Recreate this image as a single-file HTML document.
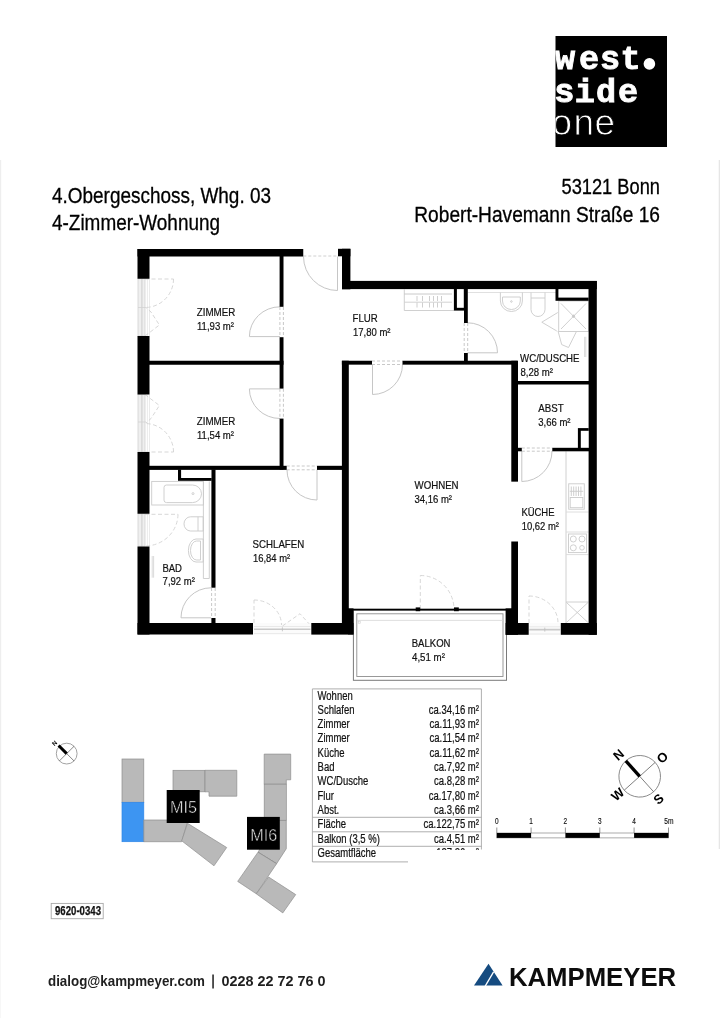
<!DOCTYPE html>
<html lang="de">
<head>
<meta charset="utf-8">
<title>Grundriss 4.Obergeschoss Whg. 03</title>
<style>
html,body{margin:0;padding:0;background:#fff;}
body{width:720px;height:1018px;overflow:hidden;position:relative;font-family:"Liberation Sans",sans-serif;}
svg{position:absolute;left:0;top:0;display:block;will-change:transform;}
text{font-family:"Liberation Sans",sans-serif;}
.mono{font-family:"Liberation Mono",monospace;}
</style>
</head>
<body>
<svg width="720" height="1018" viewBox="0 0 720 1018">
<rect x="0" y="0" width="720" height="1018" fill="#ffffff"/>

<rect x="0" y="160" width="1.2" height="760" fill="#eeeeee"/>
<rect x="0" y="920" width="1" height="98" fill="#f7f7f7"/>
<rect x="718.7" y="160" width="1.3" height="689" fill="#e6e6e6"/>
<!-- ===== LOGO ===== -->
<g id="logo">
<rect x="555.5" y="36" width="111.5" height="111" fill="#000"/>
<clipPath id="lc"><rect x="555.5" y="36" width="111.5" height="111"/></clipPath>
<g clip-path="url(#lc)" fill="#fff">
<text class="mono" y="68.7" font-size="33.5" font-weight="bold" stroke="#fff" stroke-width="0.9" x="555 578.9 600 620.6">west</text>
<circle cx="649.4" cy="63.9" r="5.8"/>
<text class="mono" y="102.4" font-size="33.5" font-weight="bold" stroke="#fff" stroke-width="0.9" x="554.2 574.8 595.9 618">side</text>
<text y="134.6" font-size="37" stroke="#000" stroke-width="0.9" x="551.6 573.6 594.6">one</text>
</g>
</g>

<!-- ===== HEADER TEXT ===== -->
<g id="header" fill="#000" font-size="21.2" stroke="#000" stroke-width="0.3">
<text x="52" y="203" textLength="219" lengthAdjust="spacingAndGlyphs">4.Obergeschoss, Whg. 03</text>
<text x="52" y="230" textLength="168" lengthAdjust="spacingAndGlyphs">4-Zimmer-Wohnung</text>
<text x="561.5" y="194" textLength="98.5" lengthAdjust="spacingAndGlyphs">53121 Bonn</text>
<text x="414.3" y="221.5" textLength="245.7" lengthAdjust="spacingAndGlyphs">Robert-Havemann Straße 16</text>
</g>

<!-- ===== FLOORPLAN ===== -->
<g id="plan">
<!--FIXTURES-->
<g id="windows" stroke="#d2d2d2" stroke-width="0.8" fill="#efefef">
<rect x="138" y="278.75" width="7" height="57.25"/>
<rect x="138" y="394.5" width="7" height="57.5"/>
<rect x="138" y="513.9" width="7" height="32.3"/>
<path d="M141.9,278.75V336M141.9,394.5V452M141.9,513.75V546.5" fill="none" stroke="#c4c4c4"/>
<path d="M138,307.5h8M138,422h8" fill="none"/>
<path d="M147.4,278.75V336M147.4,394.5V452M147.4,513.75V546.5M149.5,278.75V336M149.5,394.5V452M149.5,513.75V546.5" fill="none" stroke="#e6e6e6"/>
<rect x="253.2" y="623.2" width="58" height="11.3" fill="#fbfbfb" stroke="none"/>
<rect x="528.7" y="623" width="32" height="11.6" fill="#fbfbfb" stroke="none"/>
<path d="M254,629.3H310.5M529.3,629.6H560.2" fill="none" stroke="#c9c9c9" stroke-width="1.6"/>
<path d="M254,633.6H310.5M529.3,634H560.2M254,626.5H310.5M529.3,626.8H560.2" fill="none" stroke="#e4e4e4" stroke-width="0.8"/>
<path d="M282.4,627.3v4M544.8,627.6v4" fill="none" stroke="#bdbdbd"/>
</g>
<g id="doors" fill="none" stroke="#c6c6c6" stroke-width="1">
<!-- entry -->
<path d="M337.5,256.5V290.5M303.5,256.5A34,34 0 0 0 337.5,290.5"/>
<path d="M303.3,256H338" stroke-dasharray="3 2" stroke="#d0d0d0"/>
<!-- zimmer1 -->
<path d="M280,336.6H249.4M249.4,336.6A30.6,29.8 0 0 1 280,306.8"/>
<path d="M279.9,307V337M283.4,307V337" stroke-dasharray="3 2" stroke="#c8c8c8"/>
<!-- zimmer2 -->
<path d="M280,388.9H249.4M249.4,388.9A30.6,29.6 0 0 0 280,418.5"/>
<path d="M279.9,388.8V418.7M283.4,388.8V418.7" stroke-dasharray="3 2" stroke="#c8c8c8"/>
<!-- schlafen -->
<path d="M317,470V500M287,470A30,30 0 0 0 317,500"/>
<path d="M286.7,466H317M286.7,469.8H317" stroke-dasharray="3 2" stroke="#c8c8c8"/>
<!-- wohnen -->
<path d="M372.5,364.5V394.5M402.5,364.5A30,30 0 0 1 372.5,394.5"/>
<path d="M372,361H402.5M372,364.5H402.5" stroke-dasharray="3 2" stroke="#c8c8c8"/>
<!-- wc -->
<path d="M467.5,352.8H497.5M497.5,352.8A30,30 0 0 0 467.5,322.8"/>
<path d="M464.2,323V353M467.7,323V353" stroke-dasharray="3 2" stroke="#c8c8c8"/>
<!-- abst -->
<path d="M521.8,451V481.5M552,451A30.3,30.3 0 0 1 521.8,481.5"/>
<path d="M521.8,448H552.3M521.8,451.2H552.3" stroke-dasharray="3 2" stroke="#c8c8c8"/>
<!-- bad -->
<path d="M211,617.8H181M181,617.8A30,30 0 0 1 211,587.8"/>
<path d="M211.6,588V618M215.2,588V618" stroke-dasharray="3 2" stroke="#c8c8c8"/>
</g>
<g id="doors2" fill="none" stroke="#d3d3d3" stroke-width="0.9" stroke-dasharray="4 2.5">
<!-- balcony door wohnen -->
<path d="M420.3,609V575.5M420.3,575.5A33.7,33.7 0 0 1 454,609"/>
<!-- kueche balcony door -->
<path d="M529,623V596M529,596A29,27 0 0 1 558,623"/>
<!-- schlafen window doors -->
<path d="M254,623V600M254,600A27.5,25 0 0 1 281.5,625"/>
<path d="M282.5,626L300,613.7L309,623.7"/>
<!-- zimmer windows -->
<path d="M145,279H173.5M173.5,279A28.5,28.5 0 0 1 145,307.5"/>
<path d="M145,336L159.4,325L151,312L146,307.5"/>
<path d="M145,452H173.5M173.5,452A28.5,28.5 0 0 0 145,423.5"/>
<path d="M145,394.5L159.4,405.5L151,418.5L146,423"/>
<!-- bad window -->
<path d="M145,514.3H178M178,514.3A33,32 0 0 1 145,546"/>
</g>
<g id="fix" fill="none" stroke="#cbcbcb" stroke-width="0.9">
<!-- bad -->
<rect x="151.7" y="481.4" width="51.7" height="23.6"/>
<path d="M166.5,485H192.5A9,8.8 0 0 1 192.5,502.6H166.5A2.5,2.5 0 0 1 164,500.1V487.5A2.5,2.5 0 0 1 166.5,485Z"/>
<circle cx="193" cy="493.6" r="1"/>
<path d="M203.4,481.4V578.5H209.3V481.4"/>
<path d="M203.2,516.8H190.5A6.5,7.1 0 0 0 190.5,531H203.2Z"/>
<path d="M198,516.8V531"/>
<path d="M203.2,539H196A7.6,11.5 0 0 0 196,562H203.2Z"/>
<path d="M200.5,541H196.5A6,9.5 0 0 0 196.5,560H200.5Z"/>
<path d="M152.2,556V577.7M153.6,556V577.7" stroke-width="0.7"/>
<!-- flur closet -->
<path d="M404.3,289.5V310.5H454"/>
<path d="M404.3,294H452" stroke="#c4c4c4"/><path d="M404.3,302.2H452" stroke="#cdcdcd"/>
<path d="M417,296v12M422.5,296v12M429.5,296v12M433.5,296v12M437.5,296v12M441.5,296v12" stroke="#cacaca" stroke-dasharray="5 1.5"/>
<!-- wc -->
<path d="M468,292.5H556" stroke="#dcdcdc"/>
<path d="M500.4,292.5V301A11,10.5 0 0 0 522.4,301V292.5"/>
<path d="M502.5,297H520.3V301A8.9,8.5 0 0 1 502.5,301Z"/>
<circle cx="511.4" cy="301.5" r="0.8"/>
<path d="M531,292.5V309.5A7,7 0 0 0 545,309.5V292.5"/>
<path d="M531,298H545"/>
<rect x="558.7" y="301" width="29.8" height="30.5"/>
<path d="M561,303.5L586,329M586,303.5L561,329"/>
<circle cx="573.5" cy="316.2" r="1.2" fill="#c8c8c8"/>
<path d="M557.8,312.5L541.8,322.2L556.8,331M558,331L561.7,344.6L568.5,347.5L576.2,332"/>
<path d="M584.6,336.8V357M585.8,336.8V357" stroke-width="0.7"/>
<!-- kueche -->
<path d="M566,451.3V623"/>
<rect x="568.7" y="483.8" width="15.6" height="25.4"/>
<rect x="570.2" y="497.5" width="12.6" height="10.2"/>
<path d="M571.3,486.5v9.5M573.7,486.5v9.5M576.1,486.5v9.5M578.5,486.5v9.5M580.9,486.5v9.5M569.8,491.3H583.2"/>
<path d="M566,512H588.5M566,532H588.5M566,554.6H588.5" stroke="#dadada"/>
<rect x="568.5" y="534" width="18" height="18.6"/>
<circle cx="573.3" cy="539" r="3"/><circle cx="582" cy="539" r="3"/>
<circle cx="573.3" cy="547.8" r="3"/><circle cx="582" cy="547.8" r="2.3"/>
<path d="M566,602H588.5M566.5,602.5L588,622.5M588,602.5L566.5,622.5"/>
</g>
<g id="balkon" fill="none">
<rect x="353.4" y="610" width="153.1" height="70.3" stroke="#7a7a7a" stroke-width="1"/>
<rect x="356.8" y="613.8" width="146.2" height="62.7" stroke="#8e8e8e" stroke-width="0.9"/>
<path d="M357,620.4H503" stroke="#d6d6d6" stroke-width="0.8"/>
<rect x="358.2" y="621.2" width="2" height="2" stroke="#ccc" stroke-width="0.6"/>
</g>

<!--WALLS-->
<g id="walls" fill="#000" stroke="none">
<!-- outer -->
<rect x="137.5" y="249" width="165.75" height="7.5"/>
<rect x="137.5" y="249" width="12" height="29.75"/>
<rect x="137.5" y="336" width="12" height="58.5"/>
<rect x="137.5" y="452" width="12" height="61.75"/>
<rect x="137.5" y="546.5" width="12" height="88"/>
<rect x="137.5" y="623" width="115.5" height="11.5"/>
<rect x="311.3" y="623" width="42.2" height="11.6"/>
<rect x="348" y="608.4" width="5.5" height="26"/>
<rect x="338" y="248.8" width="12.4" height="7.5"/>
<rect x="342" y="248.8" width="8.4" height="40.5"/>
<rect x="342" y="280.9" width="254.8" height="8.2"/>
<rect x="588.6" y="281" width="8.2" height="353.8"/>
<rect x="560.8" y="623" width="36" height="11.8"/>
<rect x="505.6" y="623" width="23.1" height="11.8"/>
<rect x="505.6" y="608.4" width="12.4" height="26.4"/>
<!-- interior -->
<rect x="279.6" y="256" width="3.9" height="50.8"/>
<rect x="279.6" y="337.2" width="3.9" height="51.4"/>
<rect x="279.6" y="418.6" width="3.9" height="51"/>
<rect x="149" y="360.75" width="134.5" height="4"/>
<rect x="149" y="465.8" width="137.7" height="4.1"/>
<rect x="317" y="465.8" width="26" height="4.1"/>
<rect x="211.4" y="469.5" width="4.1" height="118.2"/>
<rect x="211.4" y="618" width="4.1" height="6"/>
<rect x="341.9" y="360.75" width="6.9" height="263"/>
<rect x="341.9" y="360.75" width="30.1" height="3.9"/>
<rect x="402.5" y="360.75" width="115" height="3.9"/>
<rect x="511.3" y="360.75" width="6.7" height="120.9"/>
<rect x="511.3" y="541.5" width="6.7" height="82"/>
<rect x="464" y="289" width="3.8" height="34"/>
<rect x="464" y="353" width="3.8" height="8"/>
<rect x="517" y="381" width="72" height="3.5"/>
<rect x="517" y="447.8" width="4.8" height="3.5"/>
<rect x="552.3" y="447.8" width="37" height="3.5"/>
<!-- wohnen bottom thin line + marks -->
<rect x="348" y="608.7" width="164" height="1.8"/>
<rect x="415.7" y="607.4" width="4.5" height="3.8"/>
<rect x="454" y="607.4" width="4.8" height="3.8"/>
</g>
<g id="shafts" stroke="none">
<rect x="178" y="469.5" width="33.6" height="11.3" fill="#000"/><rect x="181.1" y="469.9" width="30.3" height="8.1" fill="#fff"/>
<rect x="453.9" y="289" width="10.2" height="21.6" fill="#000"/><rect x="456.9" y="289.1" width="6.9" height="18.7" fill="#fff"/>
<rect x="555.5" y="289" width="33.2" height="11.8" fill="#000"/><rect x="558.4" y="289.1" width="30" height="8.5" fill="#fff"/>
<rect x="577.9" y="428.1" width="10.8" height="20" fill="#000"/><rect x="580.8" y="430.8" width="7.9" height="17" fill="#fff"/>
</g>

<!--LABELS-->
<g id="labels" fill="#111" font-size="11.5" stroke="#111" stroke-width="0.22">
<text x="196.75" y="315.90" textLength="38.50" lengthAdjust="spacingAndGlyphs">ZIMMER</text>
<text x="197.00" y="329.75" textLength="37.00" lengthAdjust="spacingAndGlyphs">11,93 m²</text>
<text x="196.75" y="425.00" textLength="38.50" lengthAdjust="spacingAndGlyphs">ZIMMER</text>
<text x="197.00" y="439.10" textLength="37.00" lengthAdjust="spacingAndGlyphs">11,54 m²</text>
<text x="352.60" y="322.10" textLength="25.15" lengthAdjust="spacingAndGlyphs">FLUR</text>
<text x="353.00" y="336.25" textLength="37.50" lengthAdjust="spacingAndGlyphs">17,80 m²</text>
<text x="520.10" y="361.50" textLength="59.40" lengthAdjust="spacingAndGlyphs">WC/DUSCHE</text>
<text x="520.50" y="376.00" textLength="32.50" lengthAdjust="spacingAndGlyphs">8,28 m²</text>
<text x="538.25" y="412.10" textLength="25.35" lengthAdjust="spacingAndGlyphs">ABST</text>
<text x="538.25" y="426.25" textLength="32.25" lengthAdjust="spacingAndGlyphs">3,66 m²</text>
<text x="414.50" y="488.75" textLength="44.10" lengthAdjust="spacingAndGlyphs">WOHNEN</text>
<text x="414.50" y="502.90" textLength="37.50" lengthAdjust="spacingAndGlyphs">34,16 m²</text>
<text x="521.40" y="516.25" textLength="33.10" lengthAdjust="spacingAndGlyphs">KÜCHE</text>
<text x="521.75" y="530.40" textLength="37.25" lengthAdjust="spacingAndGlyphs">10,62 m²</text>
<text x="252.60" y="548.40" textLength="51.65" lengthAdjust="spacingAndGlyphs">SCHLAFEN</text>
<text x="253.00" y="562.25" textLength="37.25" lengthAdjust="spacingAndGlyphs">16,84 m²</text>
<text x="162.40" y="571.50" textLength="19.60" lengthAdjust="spacingAndGlyphs">BAD</text>
<text x="162.60" y="585.40" textLength="32.30" lengthAdjust="spacingAndGlyphs">7,92 m²</text>
<text x="411.75" y="646.90" textLength="38.75" lengthAdjust="spacingAndGlyphs">BALKON</text>
<text x="412.00" y="660.90" textLength="32.90" lengthAdjust="spacingAndGlyphs">4,51 m²</text>
</g>
</g>

<!--TABLE-->
<g id="table">
<path d="M312.4,862V688.9H481.4V849.5" fill="none" stroke="#a6a6a6" stroke-width="0.9"/>
<path d="M312.4,817.3H481.4M312.4,831.8H481.4M312.4,846.3H481.4M312.4,861.9H408" fill="none" stroke="#a6a6a6" stroke-width="0.9"/>
<clipPath id="tc"><rect x="312" y="688" width="170" height="161.9"/></clipPath>
<g fill="#111" font-size="12.3" stroke="#111" stroke-width="0.22">
<text x="317.6" y="699.5" textLength="35.1" lengthAdjust="spacingAndGlyphs">Wohnen</text>
<text x="317.6" y="713.8" textLength="36.9" lengthAdjust="spacingAndGlyphs">Schlafen</text>
<text x="428.8" y="713.8" textLength="50.1" lengthAdjust="spacingAndGlyphs">ca.34,16 m²</text>
<text x="317.6" y="728.1" textLength="32.1" lengthAdjust="spacingAndGlyphs">Zimmer</text>
<text x="429.5" y="728.1" textLength="49.4" lengthAdjust="spacingAndGlyphs">ca.11,93 m²</text>
<text x="317.6" y="742.4" textLength="32.1" lengthAdjust="spacingAndGlyphs">Zimmer</text>
<text x="429.5" y="742.4" textLength="49.4" lengthAdjust="spacingAndGlyphs">ca.11,54 m²</text>
<text x="317.6" y="756.7" textLength="26.9" lengthAdjust="spacingAndGlyphs">Küche</text>
<text x="429.5" y="756.7" textLength="49.4" lengthAdjust="spacingAndGlyphs">ca.11,62 m²</text>
<text x="317.6" y="771.0" textLength="16.9" lengthAdjust="spacingAndGlyphs">Bad</text>
<text x="434.1" y="771.0" textLength="44.8" lengthAdjust="spacingAndGlyphs">ca.7,92 m²</text>
<text x="317.6" y="785.3" textLength="50.6" lengthAdjust="spacingAndGlyphs">WC/Dusche</text>
<text x="434.1" y="785.3" textLength="44.8" lengthAdjust="spacingAndGlyphs">ca.8,28 m²</text>
<text x="317.6" y="799.6" textLength="16.3" lengthAdjust="spacingAndGlyphs">Flur</text>
<text x="428.8" y="799.6" textLength="50.1" lengthAdjust="spacingAndGlyphs">ca.17,80 m²</text>
<text x="317.6" y="813.9" textLength="21.6" lengthAdjust="spacingAndGlyphs">Abst.</text>
<text x="434.1" y="813.9" textLength="44.8" lengthAdjust="spacingAndGlyphs">ca.3,66 m²</text>
<text x="317.6" y="828.2" textLength="28.5" lengthAdjust="spacingAndGlyphs">Fläche</text>
<text x="423.6" y="828.2" textLength="55.3" lengthAdjust="spacingAndGlyphs">ca.122,75 m²</text>
<text x="317.6" y="842.5" textLength="62.2" lengthAdjust="spacingAndGlyphs">Balkon (3,5 %)</text>
<text x="434.1" y="842.5" textLength="44.8" lengthAdjust="spacingAndGlyphs">ca.4,51 m²</text>
<text x="317.6" y="856.8" textLength="58.5" lengthAdjust="spacingAndGlyphs">Gesamtfläche</text>
<text x="423.6" y="856.8" textLength="55.3" lengthAdjust="spacingAndGlyphs" clip-path="url(#tc)">ca.127,26 m²</text>
</g></g>
<!--SITE-->
<g id="site" fill="#b9b9b9" stroke="#8e8e8e" stroke-width="0.7" stroke-linejoin="miter">
<!-- MI5 group -->
<rect x="122" y="759" width="21.8" height="43.3"/>
<rect x="122" y="802.3" width="21.8" height="39.4" fill="#3d95f2" stroke="#2f86e6"/>
<polygon points="143.8,820 188,820 181.7,841.7 143.8,841.7"/>
<polygon points="187.5,823.3 226.7,847.5 214,865.8 181.7,840.8"/>
<rect x="173" y="770.3" width="32" height="21.5"/>
<polygon points="205,770.3 236.8,770.3 236.8,796.2 209,796.2 209,791.8 205,791.8"/>
<!-- MI6 group -->
<polygon points="264.2,754.1 290.7,754.1 290.7,779.8 286.3,779.8 286.3,784.2 264.2,784.2"/>
<rect x="264.2" y="784.2" width="22.1" height="36.2"/>
<polygon points="264.2,820.4 286.3,820.4 286.3,848.7 276.6,863.7 258,852.2 264.2,842"/>
<path d="M258,852.2L276.6,863.7" fill="none"/>
<polygon points="258,852.2 276.6,863.7 256.3,893.8 237.7,881.4"/>
<polygon points="268.6,877 295.7,894.6 282.8,912.9 256.3,893.8"/>
</g>
<g id="sitelabels">
<rect x="166.7" y="790" width="33" height="33" fill="#000"/>
<rect x="247" y="816.9" width="32.8" height="32.8" fill="#000"/>
<g fill="#fff" font-size="17" stroke="#000" stroke-width="0.55">
<text x="170" y="813.4" textLength="27" lengthAdjust="spacingAndGlyphs">MI5</text>
<text x="250.2" y="840.5" textLength="27" lengthAdjust="spacingAndGlyphs">MI6</text>
</g>
</g>
<g id="smallcompass">
<circle cx="66.7" cy="753.6" r="10.4" fill="none" stroke="#8c8c8c" stroke-width="0.8"/>
<path d="M66.7,753.6L74.05,746.25M66.7,753.6L74.05,760.95M66.7,753.6L59.35,760.95" stroke="#555" stroke-width="0.7" fill="none"/>
<path d="M66.7,753.6L58.6,745.5" stroke="#000" stroke-width="3" fill="none"/>
<text transform="translate(54.4,743.2) rotate(-45)" x="-2.2" y="2.2" font-size="6.2" font-weight="bold" fill="#000">N</text>
</g>
<g id="codebox">
<rect x="51.2" y="903.4" width="52" height="15.3" fill="#fff" stroke="#a8a8a8" stroke-width="0.9"/>
<text x="55" y="915.1" font-size="12.3" font-weight="bold" fill="#111" stroke="#111" stroke-width="0.25" textLength="46" lengthAdjust="spacingAndGlyphs">9620-0343</text>
</g>

<!--COMPASS-->
<g id="compass">
<g transform="translate(639.7,776.3) rotate(-42)">
<circle cx="0" cy="0" r="20.8" fill="none" stroke="#777" stroke-width="0.8"/>
<path d="M0,0H20.8M0,0V20.8M0,0H-20.8" stroke="#555" stroke-width="0.7" fill="none"/>
<path d="M0,0V-20.8" stroke="#000" stroke-width="3.3" fill="none"/>
</g>
<g font-size="13" font-weight="bold" fill="#000" text-anchor="middle">
<text transform="translate(618.5,754.7) rotate(-41)" x="0" y="4.6">N</text>
<text transform="translate(662.2,757.5) rotate(-41)" x="0" y="4.6">O</text>
<text transform="translate(617.5,794.2) rotate(-41)" x="0" y="4.6">W</text>
<text transform="translate(658.5,799) rotate(-41)" x="0" y="4.6">S</text>
</g>
</g>
<g id="scalebar">
<rect x="496.8" y="833" width="171.7" height="4.9" fill="#fff" stroke="#888" stroke-width="0.7"/>
<rect x="496.8" y="833" width="34.3" height="4.9" fill="#000"/>
<rect x="565.4" y="833" width="34.4" height="4.9" fill="#000"/>
<rect x="634.1" y="833" width="34.4" height="4.9" fill="#000"/>
<path d="M496.8,827.5V833M531.1,827.5V833M565.4,827.5V833M599.8,827.5V833M634.1,827.5V833M668.5,827.5V833" stroke="#666" stroke-width="0.7" fill="none"/>
<g font-size="8.2" fill="#111" stroke="#111" stroke-width="0.15">
<text x="495.0" y="824.2" textLength="3.6" lengthAdjust="spacingAndGlyphs">0</text><text x="529.3" y="824.2" textLength="3.6" lengthAdjust="spacingAndGlyphs">1</text><text x="563.6" y="824.2" textLength="3.6" lengthAdjust="spacingAndGlyphs">2</text><text x="598.0" y="824.2" textLength="3.6" lengthAdjust="spacingAndGlyphs">3</text><text x="632.3" y="824.2" textLength="3.6" lengthAdjust="spacingAndGlyphs">4</text><text x="664.3" y="824.2" textLength="9.2" lengthAdjust="spacingAndGlyphs">5m</text>
</g>
</g>

<!--FOOTER-->
<g id="footer">
<g fill="#1f1f1f" font-size="14.6" font-weight="bold">
<text x="48" y="986.2" textLength="157" lengthAdjust="spacingAndGlyphs">dialog@kampmeyer.com</text>
<rect x="212.3" y="974.5" width="1.5" height="14"/>
<text x="221.4" y="986.2" textLength="104.2" lengthAdjust="spacingAndGlyphs">0228 22 72 76 0</text>
</g>
<polygon points="488.5,963.8 502.6,985.6 474,985.6" fill="#154b80"/>
<path d="M485.2,986.2L493.6,971.8" stroke="#fff" stroke-width="1.3" fill="none"/>
<text x="508.9" y="985.6" font-size="25.2" font-weight="bold" fill="#0d0d0d" textLength="167.3" lengthAdjust="spacingAndGlyphs">KAMPMEYER</text>
</g>

</svg>
</body>
</html>
